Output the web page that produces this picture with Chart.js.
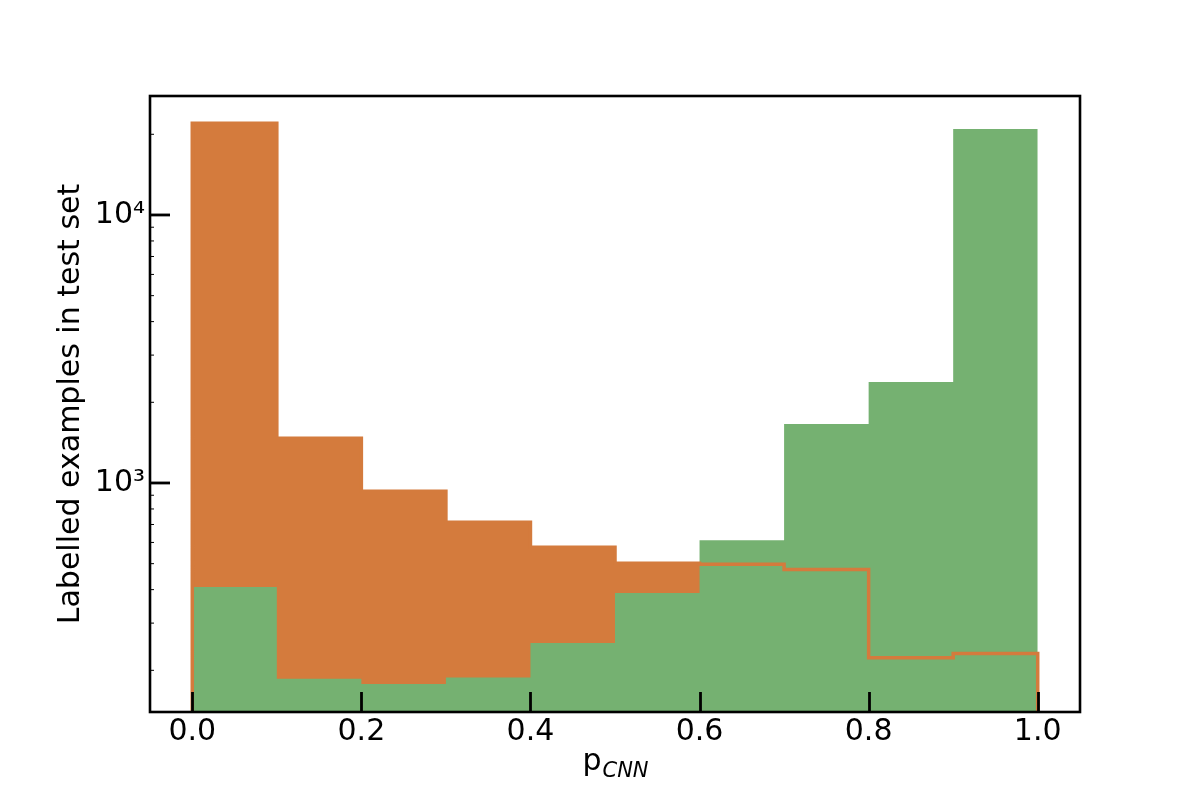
<!DOCTYPE html>
<html>
<head>
<meta charset="utf-8">
<script src="https://cdn.jsdelivr.net/npm/chart.js@4.4.1/dist/chart.umd.min.js"></script>
<style>
html,body{margin:0;padding:0;background:#ffffff;}
canvas{display:block;}
</style>
</head>
<body>
<canvas id="c" width="1200" height="800"></canvas>
<script>
// ---- data ----
const binEdges = [0.0, 0.1, 0.2, 0.3, 0.4, 0.5, 0.6, 0.7, 0.8, 0.9, 1.0];
const orangeCounts = [22000, 1469, 932, 714, 576, 502, 498, 476, 223, 231];
const greenCounts = [409, 186, 178, 188, 253, 389, 612, 1660, 2382, 20940];
const xTickValues = [0.0, 0.2, 0.4, 0.6, 0.8, 1.0];
const xTickLabels = ['0.0', '0.2', '0.4', '0.6', '0.8', '1.0'];
const yMajorTicks = [1000, 10000];
const yMajorLabels = ['10\u00B3', '10\u2074'];
const yMinorTicks = [200, 300, 400, 500, 600, 700, 800, 900, 2000, 3000, 4000, 5000, 6000, 7000, 8000, 9000, 20000];
const xTitleMain = 'p';
const xTitleSub = 'CNN';
const yTitle = 'Labelled examples in test set';

const ORANGE = '#d47b3d';
const GREEN = '#75b171';
const FONT = "'DejaVu Sans', sans-serif";
const Y_MIN = 139.8, Y_MAX = 27790;

// build step points (value of bin i spans edge i .. edge i+1)
function stepPoints(edges, counts, closed) {
  const pts = [];
  if (closed) pts.push({x: edges[0], y: 1});
  for (let i = 0; i < counts.length; i++) pts.push({x: edges[i], y: counts[i]});
  pts.push({x: edges[edges.length - 1], y: counts[counts.length - 1]});
  if (closed) pts.push({x: edges[edges.length - 1], y: 1});
  return pts;
}

const mplPlugin = {
  id: 'mplDecor',
  afterDatasetsDraw(chart) {
    const ctx = chart.ctx;
    const a = chart.chartArea;
    const xs = chart.scales.x, ys = chart.scales.y;
    ctx.save();
    ctx.strokeStyle = '#000';
    ctx.lineCap = 'butt';
    // x ticks (inward)
    ctx.lineWidth = 2.8;
    xs.ticks.forEach(t => {
      const px = Math.round(xs.getPixelForValue(t.value)) + 0.5;
      ctx.beginPath(); ctx.moveTo(px, a.bottom); ctx.lineTo(px, a.bottom - 20); ctx.stroke();
    });
    // y ticks (inward)
    ys.ticks.forEach(t => {
      const py = ys.getPixelForValue(t.value);
      const major = yMajorTicks.indexOf(t.value) >= 0;
      ctx.lineWidth = major ? 2.8 : 1;
      ctx.beginPath(); ctx.moveTo(a.left, py); ctx.lineTo(a.left + (major ? 20 : 4), py); ctx.stroke();
    });
    // frame
    ctx.lineWidth = 2.6;
    ctx.strokeRect(a.left, a.top, a.right - a.left, a.bottom - a.top);
    ctx.restore();
  },
  afterDraw(chart) {
    const ctx = chart.ctx;
    const a = chart.chartArea;
    ctx.save();
    ctx.fillStyle = '#000';
    // x title: p with italic subscript CNN
    ctx.font = '30px ' + FONT;
    const wMain = ctx.measureText(xTitleMain).width;
    ctx.font = 'italic 21px ' + FONT;
    const wSub = ctx.measureText(xTitleSub).width;
    const cx = (a.left + a.right) / 2;
    const sx = cx - (wMain + wSub) / 2;
    ctx.textBaseline = 'alphabetic';
    ctx.textAlign = 'left';
    ctx.font = '30px ' + FONT;
    ctx.fillText(xTitleMain, sx, 770);
    ctx.font = 'italic 21px ' + FONT;
    ctx.fillText(xTitleSub, sx + wMain + 1, 777);
    // y title
    ctx.translate(79, (a.top + a.bottom) / 2);
    ctx.rotate(-Math.PI / 2);
    ctx.font = '30px ' + FONT;
    ctx.textAlign = 'center';
    ctx.fillText(yTitle, 0, 0);
    ctx.restore();
  }
};

new Chart(document.getElementById('c'), {
  type: 'line',
  data: {
    datasets: [
      {
        label: 'orange outline',
        data: stepPoints(binEdges, orangeCounts, true),
        stepped: 'before',
        borderColor: ORANGE,
        borderWidth: 3.5,
        fill: false,
        pointRadius: 0,
        order: 0
      },
      {
        label: 'green',
        data: stepPoints(binEdges, greenCounts, false),
        stepped: 'before',
        borderColor: 'rgba(0,0,0,0)',
        borderWidth: 0,
        backgroundColor: GREEN,
        fill: 'start',
        pointRadius: 0,
        order: 1
      },
      {
        label: 'orange',
        data: stepPoints(binEdges, orangeCounts, false),
        stepped: 'before',
        borderColor: 'rgba(0,0,0,0)',
        borderWidth: 0,
        backgroundColor: ORANGE,
        fill: 'start',
        pointRadius: 0,
        order: 2
      }
    ]
  },
  options: {
    responsive: false,
    animation: false,
    devicePixelRatio: 1,
    layout: {padding: {top: 96, right: 120, left: 0, bottom: 0}},
    plugins: {legend: {display: false}, tooltip: {enabled: false}},
    scales: {
      x: {
        type: 'linear',
        min: -0.05,
        max: 1.05,
        afterFit: s => { s.height = 88; },
        afterBuildTicks: s => { s.ticks = xTickValues.map(v => ({value: v})); },
        grid: {display: false, drawTicks: false},
        border: {display: false},
        ticks: {
          autoSkip: false,
          maxRotation: 0,
          padding: 2,
          color: '#000',
          font: {family: FONT, size: 30},
          callback: (v) => { const i = xTickValues.indexOf(v); return i >= 0 ? xTickLabels[i] : ''; }
        }
      },
      y: {
        type: 'logarithmic',
        min: Y_MIN,
        max: Y_MAX,
        afterFit: s => { s.width = 150; },
        afterBuildTicks: s => {
          s.ticks = yMajorTicks.concat(yMinorTicks).sort((p, q) => p - q).map(v => ({value: v}));
        },
        grid: {display: false, drawTicks: false},
        border: {display: false},
        ticks: {
          autoSkip: false,
          padding: 5,
          color: '#000',
          font: {family: FONT, size: 30},
          callback: (v) => { const i = yMajorTicks.indexOf(v); return i >= 0 ? yMajorLabels[i] : ''; }
        }
      }
    }
  },
  plugins: [mplPlugin]
});
</script>
</body>
</html>
